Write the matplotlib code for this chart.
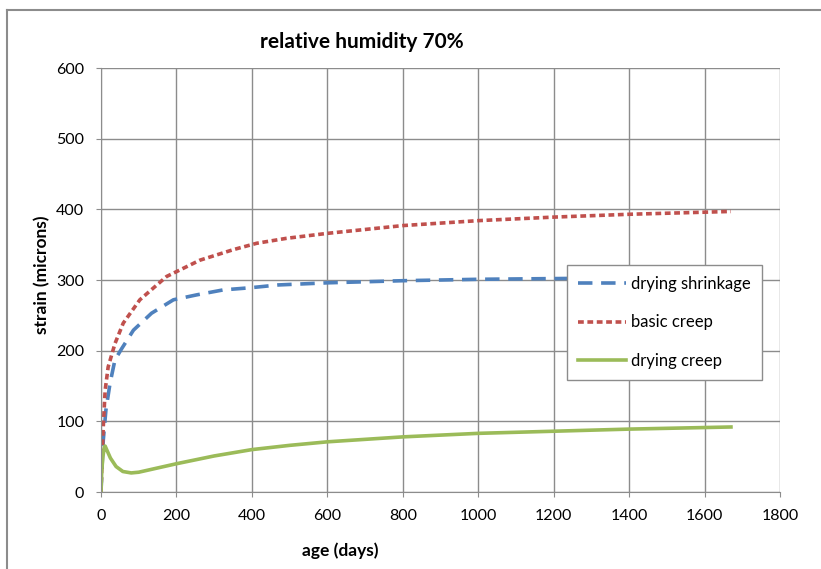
import numpy as np
import matplotlib.pyplot as plt
from matplotlib.lines import Line2D

plt.rcParams['font.family'] = ['Lato', 'DejaVu Sans']

# age (days) and strain (microns) for each series
shrink_age = [0, 2, 6, 13, 24, 37, 55, 86, 134, 192, 254, 324, 395, 470, 600, 800, 1000, 1200, 1400, 1670]
shrink_val = [0, 27, 73, 116, 154, 187, 203, 229, 253, 272, 279, 286, 289, 293, 296, 299, 301, 302, 303, 303]

basic_age = [0, 3, 6, 11, 19, 37, 59, 103, 174, 262, 351, 413, 492, 600, 800, 1000, 1200, 1400, 1670]
basic_val = [0, 50, 92, 144, 177, 210, 239, 272, 305, 328, 343, 352, 359, 366, 377, 384, 389, 393, 397]

dcreep_age = [0, 2, 5, 9, 11, 15, 25, 40, 58, 80, 100, 150, 200, 300, 400, 500, 600, 800, 1000, 1200, 1400, 1670]
dcreep_val = [0, 30, 50, 64, 65, 60, 48, 36, 29, 27, 28, 34, 40, 51, 60, 66, 71, 78, 83, 86, 89, 92]

xticks = np.arange(0, 2000, 200)
yticks = np.arange(0, 700, 100)

W, H = 821, 569
fig = plt.figure(figsize=(W / 100, H / 100), dpi=100)
# outer chart frame
fig.add_artist(Line2D([7/W, 7/W], [0, 1 - 9.5/H], color='#8c8c8c', lw=1.5))
fig.add_artist(Line2D([7/W, 1], [1 - 9.5/H, 1 - 9.5/H], color='#8c8c8c', lw=1.5))

ax = fig.add_axes([101/W, 1 - 492/H, 679/W, 424/H])

blue = '#4F81BD'
red = '#C0504D'
green = '#9BBB59'

ax.plot(shrink_age, shrink_val, color=blue, lw=2.6, dashes=(4, 2.4), label='drying shrinkage')
ax.plot(basic_age, basic_val, color=red, lw=2.6, dashes=(1.6, 1.0), label='basic creep')
ax.plot(dcreep_age, dcreep_val, color=green, lw=2.6, label='drying creep')

ax.set_xlim(0, 1800)
ax.set_ylim(0, 600)
ax.set_xticks(xticks)
ax.set_yticks(yticks)
ax.grid(True, color='#8c8c8c', lw=1)
ax.set_axisbelow(True)
for s in ['top', 'right']:
    ax.spines[s].set_visible(False)
for s in ['left', 'bottom']:
    ax.spines[s].set_color('#8c8c8c')
ax.tick_params(direction='out', length=3.6, color='#8c8c8c', labelsize=11.5)
ax.tick_params(axis='x', pad=9)
ax.tick_params(axis='y', pad=8.5)

fig.text(340/W, 1 - 551/H, 'age (days)', fontsize=12.5, fontweight='bold',
         ha='center', va='center')
fig.text(42/W, 1 - 275/H, 'strain (microns)', fontsize=12.5, fontweight='bold',
         ha='center', va='center', rotation=90)
fig.text(362/W, 1 - 42/H, 'relative humidity 70%', fontsize=15, fontweight='bold',
         ha='center', va='center')

leg = ax.legend(loc='upper left', bbox_to_anchor=((567 - 101)/679, (492 - 265)/424),
                borderaxespad=0, fontsize=12, frameon=True, fancybox=False, framealpha=1,
                edgecolor='#8c8c8c', handlelength=2.9, labelspacing=1.36,
                borderpad=0.65, handletextpad=0.3)
leg.get_frame().set_linewidth(1)

fig.savefig('out.png', dpi=100)
